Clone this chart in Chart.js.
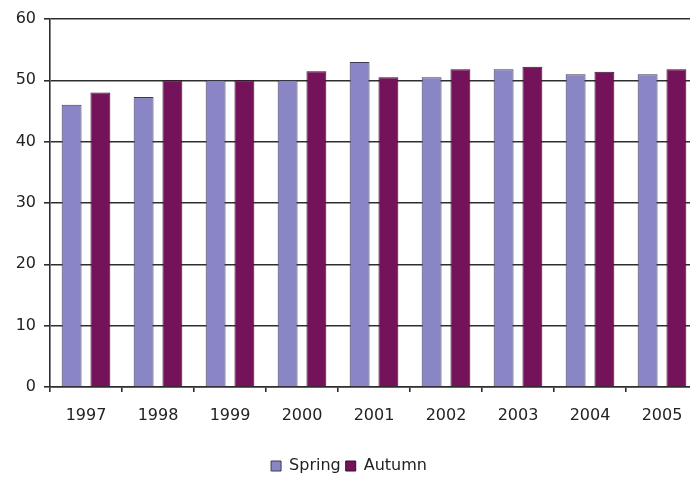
<!DOCTYPE html>
<html>
<head>
<meta charset="utf-8">
<script src="https://cdn.jsdelivr.net/npm/chart.js@4/dist/chart.umd.min.js"></script>
<style>
  html, body { margin: 0; padding: 0; background: #fff; overflow: hidden; }
  #wrap { width: 710px; height: 484px; }
</style>
</head>
<body>
<div id="wrap"><canvas id="c" width="710" height="484"></canvas></div>
<script>
// Yearly values for the two survey seasons
const years = ['1997', '1998', '1999', '2000', '2001', '2002', '2003', '2004', '2005'];
const spring = [46, 47.3, 50, 50, 53, 50.5, 51.8, 51, 51];
const autumn = [48, 50, 50, 51.5, 50.5, 51.8, 52.2, 51.4, 51.8];
const yTicks = [0, 10, 20, 30, 40, 50, 60];

const lineColor = '#2e2e2e';
const textColor = '#222222';
const tickFont = { family: 'DejaVu Sans', size: 16 };

new Chart(document.getElementById('c'), {
  type: 'bar',
  data: {
    labels: years,
    datasets: [
      {
        label: 'Spring',
        data: spring,
        backgroundColor: '#8a86c6',
        borderColor: '#3c3b52',
        borderWidth: 1,
        categoryPercentage: 0.8,
        barPercentage: 0.69
      },
      {
        label: 'Autumn',
        data: autumn,
        backgroundColor: '#75135a',
        borderColor: '#33102b',
        borderWidth: 1,
        categoryPercentage: 0.8,
        barPercentage: 0.69
      }
    ]
  },
  options: {
    responsive: false,
    devicePixelRatio: 1,
    animation: false,
    layout: { padding: { top: 19, right: 12, left: 0, bottom: 0 } },
    plugins: {
      tooltip: { enabled: false },
      legend: {
        position: 'bottom',
        labels: {
          boxWidth: 10,
          boxHeight: 10,
          padding: 5,
          color: textColor,
          font: { family: 'DejaVu Sans', size: 16 }
        }
      }
    },
    scales: {
      y: {
        min: 0,
        max: 60,
        afterBuildTicks: (scale) => { scale.ticks = yTicks.map(v => ({ value: v })); },
        ticks: { color: textColor, font: tickFont, padding: 8 },
        grid: { color: lineColor, lineWidth: 1.6, tickLength: 6 },
        border: { display: true, color: lineColor, width: 1.6 },
        afterFit: (scale) => { scale.width = 50; }
      },
      x: {
        offset: true,
        ticks: { color: textColor, font: tickFont, padding: 14 },
        grid: { drawOnChartArea: false, drawTicks: true, tickLength: 5, color: lineColor, lineWidth: 1.6, offset: true },
        border: { display: true, color: lineColor, width: 1.6 },
        afterFit: (scale) => { scale.height = 66; }
      }
    }
  }
});
</script>
</body>
</html>
